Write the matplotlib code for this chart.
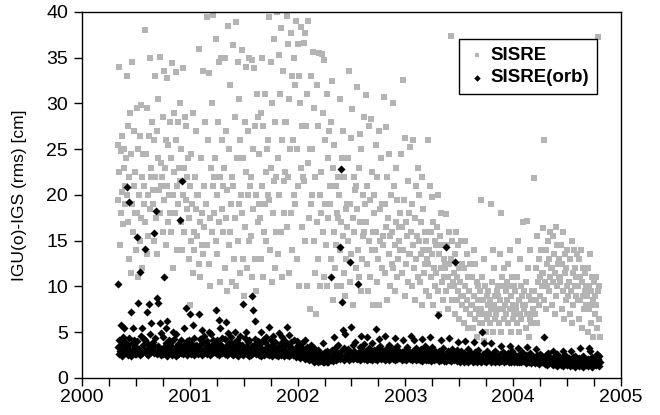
import numpy as np
import pandas as pd
import matplotlib
matplotlib.use("Agg")
import matplotlib.pyplot as plt
from matplotlib.ticker import MultipleLocator

# SISRE [cm], one value every 2 days from 2000-05-01, in blocks of ~30 days
sisre = [
    25.5, 19.5, 34.0, 22.5, 14.5, 24.8, 18.0, 26.5, 20.3, 16.8, 23.0, 25.0, 19.0, 21.0, 24.0,
    20.0, 33.0, 17.0, 27.5, 13.0, 22.0, 29.0, 11.5, 24.5, 19.0, 34.5, 16.0, 21.0, 27.0, 18.0,
    22.5, 14.0, 29.5, 18.0, 25.0, 11.0, 20.0, 26.5, 15.0, 29.8, 17.5, 22.0, 12.0, 24.5, 19.0,
    21.0, 38.0, 17.0, 24.5, 13.5, 29.5, 20.0, 15.5, 26.5, 18.5, 35.0, 22.0, 23.0, 28.0, 20.5,
    19.0, 26.0, 15.0, 33.0, 22.0, 17.5, 27.0, 13.5, 24.0, 30.5, 20.5, 35.1, 18.0, 23.5, 21.0,
    22.0, 16.0, 28.5, 19.5, 33.5, 23.0, 14.5, 26.0, 21.0, 32.8, 17.0, 25.5, 20.0, 28.0, 18.0,
    24.0, 16.0, 34.4, 20.0, 12.0, 29.0, 22.5, 18.0, 33.4, 26.0, 14.0, 21.0, 28.0, 19.0, 23.0,
    21.5, 30.0, 17.0, 25.0, 14.0, 33.9, 20.0, 23.0, 16.0, 28.5, 19.5, 27.5, 22.0, 18.5, 24.0,
    17.5, 13.0, 21.0, 8.0, 24.5, 15.0, 19.0, 11.5, 29.0, 16.0, 14.0, 22.0, 18.5, 27.0, 20.0,
    15.5, 20.0, 12.5, 36.0, 17.0, 11.0, 24.0, 14.5, 18.0, 33.5, 13.5, 21.0, 16.5, 28.0, 19.0,
    19.0, 39.4, 14.5, 26.0, 12.5, 33.3, 17.5, 10.0, 23.0, 16.0, 30.0, 21.0, 39.7, 22.0, 18.0,
    24.0, 15.0, 37.0, 20.0, 13.5, 28.0, 17.0, 34.5, 10.5, 22.0, 35.0, 18.5, 26.0, 16.0, 21.0,
    23.0, 12.0, 35.0, 17.5, 27.0, 9.5, 20.5, 38.5, 14.5, 25.0, 16.0, 32.0, 19.0, 10.5, 22.0,
    21.0, 36.4, 13.0, 28.5, 17.5, 38.9, 10.0, 24.0, 15.0, 34.5, 19.0, 30.5, 26.0, 11.5, 20.0,
    18.0, 35.8, 13.0, 24.0, 9.0, 28.0, 16.5, 34.0, 22.5, 12.0, 27.0, 20.0, 15.0, 35.0, 21.0,
    22.0, 15.5, 34.8, 11.0, 25.0, 18.5, 33.9, 13.0, 27.5, 20.0, 9.5, 31.0, 17.0, 28.5, 19.0,
    24.5, 17.5, 29.0, 13.0, 35.0, 21.0, 11.0, 27.5, 16.0, 31.0, 19.0, 22.5, 15.0, 25.0, 20.0,
    26.0, 39.5, 19.5, 14.0, 34.5, 23.0, 10.5, 30.0, 18.0, 37.0, 21.5, 12.0, 28.0, 16.0, 22.0,
    40.0, 24.0, 13.5, 35.3, 20.0, 31.0, 16.0, 38.3, 26.0, 11.0, 33.5, 21.5, 18.0, 28.0, 22.5,
    28.0, 39.6, 16.5, 36.5, 22.0, 11.5, 30.5, 25.0, 37.7, 18.0, 33.0, 14.0, 26.0, 35.0, 20.0,
    32.0, 19.0, 39.0, 25.0, 13.0, 36.5, 21.0, 33.0, 10.0, 30.0, 38.4, 23.0, 16.5, 27.5, 22.0,
    36.6, 21.5, 15.0, 37.7, 27.5, 10.0, 31.0, 23.5, 39.0, 17.5, 25.0, 7.5, 33.0, 19.0, 20.0,
    25.0, 35.6, 15.0, 29.5, 11.5, 22.0, 7.0, 32.0, 17.0, 27.5, 13.0, 35.5, 20.0, 10.0, 18.0,
    22.5, 35.4, 16.0, 29.0, 11.0, 34.7, 19.0, 26.0, 14.5, 31.0, 10.0, 24.0, 17.5, 27.0, 21.0,
    19.0, 28.0, 13.0, 32.5, 8.5, 23.0, 16.0, 25.5, 12.0, 21.0, 14.5, 18.0, 10.0, 22.0, 17.5,
    20.0, 14.0, 30.5, 17.0, 10.0, 24.0, 15.5, 27.0, 11.5, 22.0, 9.0, 18.5, 13.0, 16.5, 19.0,
    24.0, 15.0, 33.6, 19.0, 10.5, 26.2, 13.5, 29.4, 17.5, 8.0, 22.0, 16.0, 20.5, 12.0, 21.0,
    18.5, 31.8, 14.0, 23.0, 11.0, 26.7, 17.0, 9.5, 25.0, 13.0, 20.0, 15.5, 28.5, 16.0, 19.0,
    17.0, 30.9, 12.5, 21.0, 9.5, 27.5, 15.0, 19.5, 11.0, 28.3, 14.0, 22.5, 16.0, 8.0, 18.0,
    20.0, 14.0, 25.5, 16.0, 10.5, 22.0, 13.0, 27.0, 8.0, 18.5, 15.0, 24.0, 12.0, 19.0, 15.5,
    14.5, 30.7, 19.0, 11.5, 27.4, 16.5, 22.0, 8.5, 17.5, 13.5, 24.5, 15.5, 10.0, 20.0, 12.5,
    16.0, 30.0, 12.0, 21.0, 14.5, 9.5, 23.0, 17.0, 11.0, 19.5, 13.0, 16.5, 15.0, 18.0, 14.0,
    24.5, 11.5, 16.5, 32.6, 14.0, 19.5, 9.0, 26.2, 12.5, 17.0, 15.5, 21.5, 10.5, 18.0, 13.5,
    13.5, 25.2, 16.0, 10.0, 19.0, 14.5, 26.0, 12.0, 17.5, 8.5, 21.0, 13.0, 15.5, 23.0, 11.0,
    15.0, 20.0, 10.5, 17.0, 13.5, 22.0, 8.0, 14.0, 18.5, 11.5, 16.0, 12.5, 9.5, 15.0, 13.0,
    12.5, 26.0, 14.0, 9.0, 21.0, 16.0, 11.0, 19.8, 13.5, 8.0, 17.0, 12.0, 15.0, 10.0, 14.5,
    11.5, 16.5, 9.5, 20.0, 13.5, 7.0, 15.5, 12.0, 18.0, 10.5, 14.5, 8.5, 13.0, 11.0, 12.5,
    12.0, 17.9, 9.5, 14.5, 11.0, 7.5, 16.0, 12.5, 10.0, 37.4, 13.0, 8.5, 15.0, 10.5, 11.5,
    10.0, 13.5, 7.0, 16.0, 11.0, 8.5, 14.5, 9.5, 12.0, 6.5, 10.5, 15.0, 9.0, 12.5, 8.0,
    9.0, 12.0, 6.0, 15.0, 10.0, 7.5, 13.5, 8.5, 11.0, 5.5, 9.5, 12.5, 7.0, 11.0, 8.0,
    8.0, 11.0, 5.5, 14.0, 9.0, 6.5, 12.5, 7.5, 10.5, 4.5, 8.5, 10.0, 7.0, 9.5, 6.0,
    7.5, 19.5, 6.0, 11.0, 8.5, 4.0, 13.0, 7.0, 10.0, 5.0, 9.0, 6.5, 8.0, 9.5, 7.0,
    8.5, 6.0, 19.0, 7.5, 10.5, 5.0, 14.0, 8.0, 12.0, 6.5, 9.0, 7.0, 9.5, 7.5, 10.0,
    9.0, 6.0, 13.5, 8.5, 18.0, 5.0, 11.0, 7.5, 10.0, 6.5, 12.0, 8.0, 9.5, 7.0, 10.5,
    8.5, 12.5, 6.0, 10.0, 7.5, 14.0, 5.0, 9.0, 11.0, 6.5, 8.0, 10.0, 7.0, 9.5, 8.0,
    7.5, 11.0, 6.0, 15.0, 8.5, 5.0, 13.0, 7.0, 10.0, 6.5, 9.0, 17.0, 8.0, 9.5, 7.5,
    8.0, 10.5, 5.5, 17.2, 7.0, 12.0, 4.5, 9.0, 14.0, 6.5, 8.5, 6.0, 9.5, 7.5, 7.0,
    9.5, 21.9, 7.0, 12.0, 8.5, 15.5, 6.0, 10.5, 13.0, 8.0, 11.0, 9.0, 14.0, 10.0, 11.5,
    11.5, 16.4, 8.5, 26.0, 10.5, 14.0, 7.5, 12.5, 10.0, 15.0, 9.5, 13.0, 11.0, 16.0, 12.0,
    12.0, 8.0, 15.5, 10.5, 13.5, 7.0, 11.5, 16.5, 9.0, 14.5, 10.0, 12.5, 11.0, 13.0, 10.5,
    11.0, 14.5, 7.5, 12.5, 9.5, 16.0, 6.5, 11.5, 13.5, 8.5, 12.0, 10.0, 14.0, 9.0, 10.5,
    10.5, 7.0, 13.0, 9.5, 15.0, 6.0, 11.5, 8.0, 14.0, 10.0, 12.0, 9.0, 11.0, 13.5, 8.5,
    10.0, 13.0, 6.5, 11.0, 8.5, 14.0, 5.5, 10.5, 9.0, 12.0, 7.5, 9.5, 11.5, 8.0, 10.0,
    9.0, 12.0, 5.0, 10.0, 7.5, 13.5, 6.0, 9.5, 8.0, 11.0, 4.5, 8.5, 10.5, 7.0, 9.0,
    8.0, 11.0, 5.5, 9.5, 37.3, 6.5, 10.0, 4.5,
]

# SISRE(orb) [cm], same epochs
sisre_orb = [
    3.4, 10.3, 2.6, 4.1, 3.0, 5.8, 2.8, 3.7, 2.4, 4.5, 3.2, 5.5, 2.9, 3.9, 3.3,
    2.7, 20.9, 3.6, 2.5, 4.4, 19.2, 3.1, 2.4, 7.2, 3.8, 2.9, 5.5, 3.3, 4.2, 2.6,
    3.5, 2.6, 15.4, 4.0, 2.8, 8.2, 3.2, 11.6, 2.5, 4.6, 3.0, 5.5, 2.7, 3.6, 4.3,
    2.9, 4.2, 14.1, 3.1, 2.6, 7.2, 3.7, 2.5, 8.1, 3.4, 4.8, 2.8, 6.0, 3.3, 3.9,
    3.6, 2.7, 15.8, 4.4, 3.0, 18.2, 2.6, 8.7, 3.5, 8.2, 2.8, 6.0, 3.2, 4.9, 2.5,
    3.1, 4.5, 2.6, 11.0, 3.4, 2.9, 5.5, 3.8, 2.4, 6.2, 3.3, 2.7, 4.1, 3.0, 3.6,
    2.8, 3.9, 2.5, 5.0, 3.3, 2.7, 4.3, 3.1, 2.4, 4.8, 3.5, 2.9, 3.7, 2.6, 3.2,
    3.4, 17.3, 2.7, 4.2, 21.5, 3.0, 2.6, 5.5, 3.6, 2.8, 7.6, 3.2, 4.0, 2.5, 3.5,
    2.9, 4.1, 3.3, 7.0, 2.6, 3.8, 2.8, 5.8, 3.4, 2.5, 4.4, 3.1, 2.7, 3.6, 3.0,
    3.5, 2.6, 7.0, 3.2, 4.3, 2.8, 3.7, 5.2, 2.5, 3.9, 3.0, 4.6, 2.7, 3.3, 3.1,
    3.2, 4.0, 2.6, 3.6, 5.0, 2.9, 3.4, 2.5, 4.8, 3.1, 2.7, 4.2, 3.5, 2.8, 3.8,
    2.8, 3.5, 7.4, 2.6, 4.1, 3.2, 6.3, 2.5, 3.7, 5.5, 3.0, 2.7, 4.4, 3.3, 2.9,
    3.1, 2.6, 4.3, 6.1, 2.8, 3.6, 2.5, 4.9, 3.3, 2.7, 3.9, 3.0, 4.5, 2.6, 3.4,
    3.3, 2.5, 3.8, 2.7, 5.0, 3.1, 2.6, 4.2, 3.5, 2.4, 3.7, 2.9, 4.6, 3.0, 2.8,
    2.7, 3.6, 8.1, 2.5, 3.2, 4.4, 2.8, 5.0, 3.4, 2.6, 3.9, 3.0, 2.4, 4.1, 3.1,
    3.0, 2.5, 9.0, 3.5, 2.7, 7.4, 3.1, 4.3, 6.2, 2.6, 3.8, 2.8, 4.0, 3.3, 2.5,
    2.9, 3.7, 2.4, 5.0, 3.2, 2.6, 4.2, 3.0, 2.5, 3.9, 2.8, 4.5, 3.3, 2.6, 3.5,
    3.1, 2.5, 5.6, 3.4, 2.7, 4.1, 2.4, 3.6, 4.6, 2.8, 3.2, 2.6, 3.9, 3.0, 2.5,
    2.6, 3.4, 2.4, 4.9, 3.0, 2.7, 3.8, 2.5, 4.5, 3.2, 2.8, 3.5, 2.4, 4.0, 2.9,
    3.0, 2.5, 5.6, 2.8, 3.6, 2.4, 4.7, 3.1, 2.6, 3.9, 2.7, 3.3, 2.5, 4.2, 2.9,
    2.6, 3.2, 2.3, 4.0, 2.8, 2.4, 3.6, 2.5, 3.0, 2.2, 3.4, 2.7, 2.4, 3.8, 2.6,
    2.4, 3.0, 2.1, 4.2, 2.6, 2.2, 3.4, 2.3, 2.8, 2.0, 3.1, 2.5, 2.2, 3.6, 2.4,
    2.1, 2.7, 1.8, 3.3, 2.3, 1.9, 2.9, 2.0, 2.5, 1.7, 3.1, 2.2, 1.9, 2.6, 2.0,
    2.0, 2.6, 1.7, 3.8, 2.2, 1.8, 2.8, 1.9, 2.4, 1.7, 3.0, 2.1, 1.8, 2.5, 2.3,
    2.3, 11.0, 2.0, 3.1, 2.5, 1.9, 4.5, 2.2, 2.8, 2.0, 3.4, 2.4, 2.1, 2.7, 3.6,
    2.6, 14.3, 2.1, 22.8, 2.9, 8.3, 2.3, 5.2, 2.0, 3.3, 4.8, 2.5, 2.2, 3.0, 2.7,
    2.4, 3.2, 2.0, 12.7, 2.7, 2.2, 5.6, 2.5, 3.6, 2.1, 2.9, 2.3, 3.9, 2.6, 2.2,
    2.5, 2.1, 10.3, 2.8, 2.3, 3.4, 2.0, 4.6, 2.6, 2.2, 3.1, 2.4, 3.7, 2.1, 2.7,
    2.3, 3.0, 2.0, 4.5, 2.6, 2.2, 3.3, 2.1, 2.8, 2.4, 3.8, 2.0, 2.7, 2.5, 3.1,
    2.6, 2.1, 5.4, 2.4, 3.2, 2.0, 2.8, 4.3, 2.3, 2.5, 3.5, 2.1, 2.9, 2.2, 3.0,
    2.2, 2.8, 2.0, 4.6, 2.5, 2.1, 3.3, 2.4, 2.9, 2.0, 3.6, 2.3, 2.7, 2.2, 3.1,
    2.5, 2.1, 3.2, 2.3, 4.4, 2.0, 2.8, 2.4, 3.5, 2.1, 2.6, 2.2, 3.0, 2.4, 2.7,
    2.3, 2.8, 2.0, 4.2, 2.5, 2.1, 3.1, 2.3, 2.7, 2.0, 3.4, 2.2, 2.6, 2.4, 2.9,
    2.4, 2.1, 4.6, 2.6, 2.0, 3.0, 2.3, 4.1, 2.2, 2.8, 2.0, 3.3, 2.5, 2.1, 2.7,
    2.2, 2.7, 2.0, 3.2, 2.4, 1.9, 4.3, 2.3, 2.8, 2.1, 3.5, 2.2, 2.6, 2.0, 2.9,
    2.4, 2.0, 3.1, 2.2, 4.5, 1.9, 2.7, 2.3, 3.4, 2.1, 2.5, 2.0, 3.0, 2.2, 2.6,
    2.1, 2.6, 6.9, 2.3, 1.9, 3.0, 2.2, 4.1, 2.0, 2.7, 2.4, 3.3, 1.9, 2.5, 2.2,
    2.3, 1.9, 14.3, 2.5, 2.1, 2.9, 2.0, 4.4, 2.2, 2.7, 1.9, 3.2, 2.4, 2.1, 2.6,
    2.0, 2.5, 12.7, 2.2, 1.9, 3.1, 2.1, 3.9, 2.3, 2.6, 1.8, 2.9, 2.0, 2.4, 2.2,
    2.2, 1.8, 2.7, 2.0, 4.0, 1.9, 2.4, 2.1, 3.2, 1.8, 2.5, 2.0, 2.8, 2.2, 2.3,
    2.1, 2.6, 1.8, 3.9, 2.3, 1.9, 2.8, 2.0, 2.4, 1.8, 3.1, 2.2, 2.5, 1.9, 2.3,
    2.3, 1.8, 5.0, 2.1, 2.6, 1.9, 3.8, 2.0, 2.4, 1.8, 2.9, 2.2, 2.0, 2.5, 2.1,
    2.0, 2.5, 1.8, 3.8, 2.2, 1.9, 2.7, 2.1, 2.3, 1.8, 3.0, 2.0, 2.4, 1.9, 2.2,
    2.1, 1.8, 2.6, 2.0, 3.5, 1.9, 2.3, 2.0, 2.8, 1.7, 2.4, 2.1, 1.9, 2.5, 2.2,
    2.2, 1.9, 2.7, 1.7, 3.5, 2.0, 2.4, 1.8, 2.9, 2.1, 2.3, 1.8, 2.6, 2.0, 2.2,
    1.9, 2.4, 1.7, 3.3, 2.1, 1.8, 2.6, 2.0, 2.3, 1.7, 2.8, 1.9, 2.2, 2.0, 2.5,
    2.0, 1.6, 2.5, 1.8, 3.4, 1.9, 2.2, 1.7, 2.7, 2.0, 2.3, 1.6, 2.4, 1.9, 2.1,
    1.8, 2.3, 1.6, 3.2, 2.0, 1.7, 2.5, 1.8, 2.2, 1.5, 2.6, 1.9, 2.1, 1.7, 2.4,
    1.7, 2.2, 4.5, 1.9, 1.5, 2.5, 1.8, 2.0, 1.4, 2.7, 1.6, 2.1, 1.8, 2.3, 1.6,
    1.6, 2.1, 1.4, 3.0, 1.8, 1.5, 2.4, 1.7, 2.0, 1.3, 2.6, 1.6, 1.9, 1.5, 2.2,
    1.8, 1.4, 2.3, 1.6, 3.0, 1.3, 2.0, 1.7, 2.5, 1.5, 2.1, 1.4, 1.9, 1.6, 2.2,
    1.5, 2.0, 1.3, 2.9, 1.7, 1.4, 2.3, 1.6, 1.9, 1.2, 2.4, 1.5, 1.8, 1.6, 2.1,
    1.7, 1.3, 2.2, 1.5, 3.3, 1.4, 1.9, 1.6, 2.4, 1.2, 2.0, 1.5, 1.8, 1.4, 2.1,
    1.6, 2.1, 1.3, 3.3, 1.5, 2.9, 1.4, 1.8, 2.3, 1.2, 2.0, 1.6, 1.9, 1.5, 2.2,
    1.8, 1.4, 2.6, 1.6, 2.1, 1.3, 2.4, 1.7,
]

dates = pd.date_range("2000-05-01", periods=len(sisre), freq="2D")
years = 2000 + (dates - pd.Timestamp("2000-01-01")).days / 365.25

plt.rcParams["font.family"] = ["Liberation Sans", "DejaVu Sans"]

fig = plt.figure(figsize=(6.6, 4.15), dpi=100)
ax = fig.add_axes([0.1242, 0.0892, 0.8167, 0.8819])

ax.scatter(years, sisre, marker="s", s=16, color="#b4b4b4", linewidths=0,
           label="SISRE", zorder=2)
ax.scatter(years, sisre_orb, marker="D", s=17, color="black", linewidths=0,
           label="SISRE(orb)", zorder=3)

ax.set_xlim(2000, 2005)
ax.set_ylim(0, 40)
ax.xaxis.set_major_locator(MultipleLocator(1))
ax.xaxis.set_minor_locator(MultipleLocator(0.25))
ax.yaxis.set_major_locator(MultipleLocator(5))
ax.tick_params(which="both", direction="out", length=6, width=1, labelsize=14)
ax.tick_params(axis="x", pad=2)
ax.tick_params(axis="y", pad=4)
for sp in ax.spines.values():
    sp.set_linewidth(1)

ax.set_ylabel("IGU(o)-IGS (rms) [cm]", fontsize=12.5, labelpad=14)

leg = ax.legend(loc="upper right", bbox_to_anchor=(0.955, 0.926), borderaxespad=0,
                fancybox=False, framealpha=1, edgecolor="black",
                prop={"weight": "bold", "size": 13.5},
                handletextpad=0.2, borderpad=0.4, labelspacing=0.3,
                handlelength=1.1, markerscale=0.8)
leg.get_frame().set_linewidth(1)

fig.savefig("out.png", dpi=100)
